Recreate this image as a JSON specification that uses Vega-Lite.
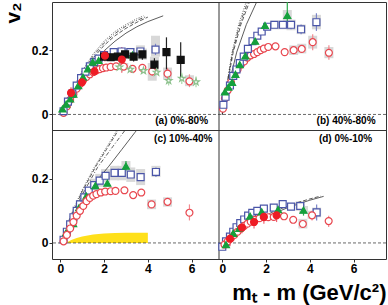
{
"$schema":"https://vega.github.io/schema/vega-lite/v6.json",
"width":388,"height":305,
"autosize":{"type":"fit","contains":"padding"},
"padding":{"left":2,"top":1,"right":1,"bottom":2},
"config":{"view":{"stroke":"#333"},"axis":{"labelFont":"Liberation Sans","titleFont":"Liberation Sans","labelFontSize":12,"labelFontWeight":"bold","labelColor":"#000","tickColor":"#333","grid":false,"domain":false,"labelOverlap":false,"labelFlush":false}},
"data":{"values":[
{"r":"t","q":"L","t":"(a) 0%-80%","x":6.75,"y":-0.02},{"r":"t","q":"R","t":"(b) 40%-80%","x":7.0,"y":-0.02},{"r":"b","q":"L","t":"(c) 10%-40%","x":6.95,"y":0.322},{"r":"b","q":"R","t":"(d) 0%-10%","x":6.85,"y":0.322},
{"r":"b","q":"L","b":1,"x":0.1,"y":0},{"r":"b","q":"L","b":1,"x":0.35,"y":0.004},{"r":"b","q":"L","b":1,"x":0.5,"y":0.009},{"r":"b","q":"L","b":1,"x":0.75,"y":0.015},{"r":"b","q":"L","b":1,"x":1.0,"y":0.02},{"r":"b","q":"L","b":1,"x":1.5,"y":0.026},{"r":"b","q":"L","b":1,"x":2.0,"y":0.029},{"r":"b","q":"L","b":1,"x":2.5,"y":0.031},{"r":"b","q":"L","b":1,"x":3.0,"y":0.032},{"r":"b","q":"L","b":1,"x":4.0,"y":0.032},
{"r":"t","q":"L","s":"K","x":0.15,"y":0.005},{"r":"t","q":"L","s":"K","x":0.3,"y":0.025},{"r":"t","q":"L","s":"K","x":0.45,"y":0.045},{"r":"t","q":"L","s":"K","x":0.6,"y":0.063},{"r":"t","q":"L","s":"K","x":0.75,"y":0.08},{"r":"t","q":"L","s":"K","x":0.9,"y":0.095},{"r":"t","q":"L","s":"K","x":1.05,"y":0.107},{"r":"t","q":"L","s":"K","x":1.2,"y":0.117},{"r":"t","q":"L","s":"K","x":1.35,"y":0.125},{"r":"t","q":"L","s":"K","x":1.5,"y":0.132},{"r":"t","q":"L","s":"K","x":1.65,"y":0.137},{"r":"t","q":"L","s":"K","x":1.8,"y":0.141},{"r":"t","q":"L","s":"K","x":1.95,"y":0.144},{"r":"t","q":"L","s":"K","x":2.1,"y":0.146},{"r":"t","q":"L","s":"K","x":2.3,"y":0.148},{"r":"t","q":"L","s":"K","x":2.55,"y":0.15},{"r":"t","q":"L","s":"K","x":2.9,"y":0.149,"sl":0.14,"sh":0.16},{"r":"t","q":"L","s":"K","x":3.3,"y":0.142},{"r":"t","q":"L","s":"K","x":3.75,"y":0.145},{"r":"t","q":"L","s":"K","x":4.2,"y":0.134,"lo":0.12,"hi":0.15,"sl":0.105,"sh":0.16},{"r":"t","q":"L","s":"K","x":4.9,"y":0.127,"lo":0.11,"hi":0.145,"sl":0.108,"sh":0.146},{"r":"t","q":"L","s":"K","x":5.9,"y":0.103,"lo":0.085,"hi":0.125,"sl":0.088,"sh":0.122},
{"r":"t","q":"L","s":"L","x":0.15,"y":0.01},{"r":"t","q":"L","s":"L","x":0.35,"y":0.04},{"r":"t","q":"L","s":"L","x":0.55,"y":0.065},{"r":"t","q":"L","s":"L","x":0.75,"y":0.09},{"r":"t","q":"L","s":"L","x":0.95,"y":0.113},{"r":"t","q":"L","s":"L","x":1.15,"y":0.133},{"r":"t","q":"L","s":"L","x":1.35,"y":0.15},{"r":"t","q":"L","s":"L","x":1.55,"y":0.163},{"r":"t","q":"L","s":"L","x":1.75,"y":0.174},{"r":"t","q":"L","s":"L","x":2.0,"y":0.185},{"r":"t","q":"L","s":"L","x":2.44,"y":0.194},{"r":"t","q":"L","s":"L","x":2.8,"y":0.196,"sl":0.185,"sh":0.207},{"r":"t","q":"L","s":"L","x":3.2,"y":0.194,"sl":0.183,"sh":0.207},{"r":"t","q":"L","s":"L","x":3.66,"y":0.196,"sl":0.175,"sh":0.215},{"r":"t","q":"L","s":"L","x":4.35,"y":0.202,"lo":0.185,"hi":0.22,"sl":0.18,"sh":0.245},
{"r":"t","q":"L","s":"X","x":0.1,"y":0.017},{"r":"t","q":"L","s":"X","x":0.27,"y":0.032},{"r":"t","q":"L","s":"X","x":0.45,"y":0.048},{"r":"t","q":"L","s":"X","x":0.6,"y":0.063},{"r":"t","q":"L","s":"X","x":0.82,"y":0.09},{"r":"t","q":"L","s":"X","x":1.04,"y":0.116},{"r":"t","q":"L","s":"X","x":1.26,"y":0.142},{"r":"t","q":"L","s":"X","x":1.48,"y":0.163},{"r":"t","q":"L","s":"X","x":1.75,"y":0.168},{"r":"t","q":"L","s":"X","x":3.3,"y":0.185,"lo":0.17,"hi":0.2},
{"r":"t","q":"L","s":"p","x":2.0,"y":0.18},{"r":"t","q":"L","s":"p","x":2.3,"y":0.178},{"r":"t","q":"L","s":"p","x":2.63,"y":0.18},{"r":"t","q":"L","s":"p","x":2.96,"y":0.187},{"r":"t","q":"L","s":"p","x":3.35,"y":0.18,"lo":0.165,"hi":0.195},{"r":"t","q":"L","s":"p","x":3.75,"y":0.187,"lo":0.17,"hi":0.205,"sl":0.17,"sh":0.205},{"r":"t","q":"L","s":"p","x":4.3,"y":0.155,"lo":0.135,"hi":0.175,"sl":0.13,"sh":0.18},{"r":"t","q":"L","s":"p","x":4.85,"y":0.194,"lo":0.14,"hi":0.24},{"r":"t","q":"L","s":"p","x":5.5,"y":0.17,"lo":0.11,"hi":0.225},
{"r":"t","q":"L","s":"O","x":0.49,"y":0.067,"lo":0.05,"hi":0.085},{"r":"t","q":"L","s":"O","x":0.99,"y":0.1,"lo":0.085,"hi":0.115},{"r":"t","q":"L","s":"O","x":1.56,"y":0.134,"lo":0.12,"hi":0.15},{"r":"t","q":"L","s":"O","x":2.04,"y":0.183,"lo":0.165,"hi":0.2},{"r":"t","q":"L","s":"O","x":2.81,"y":0.171,"lo":0.13,"hi":0.21},
{"r":"t","q":"L","s":"pi","x":2.7,"y":0.147},{"r":"t","q":"L","s":"pi","x":3.2,"y":0.14},{"r":"t","q":"L","s":"pi","x":3.8,"y":0.136},{"r":"t","q":"L","s":"pi","x":4.4,"y":0.131},{"r":"t","q":"L","s":"pi","x":4.95,"y":0.105,"lo":0.09,"hi":0.122},{"r":"t","q":"L","s":"pi","x":5.55,"y":0.112,"lo":0.095,"hi":0.13},{"r":"t","q":"L","s":"pi","x":6.2,"y":0.101,"lo":0.085,"hi":0.118},
{"r":"t","q":"R","s":"K","x":0.03,"y":0.018},{"r":"t","q":"R","s":"K","x":0.12,"y":0.05},{"r":"t","q":"R","s":"K","x":0.25,"y":0.075},{"r":"t","q":"R","s":"K","x":0.4,"y":0.1},{"r":"t","q":"R","s":"K","x":0.55,"y":0.122},{"r":"t","q":"R","s":"K","x":0.7,"y":0.14},{"r":"t","q":"R","s":"K","x":0.85,"y":0.155},{"r":"t","q":"R","s":"K","x":1.0,"y":0.165},{"r":"t","q":"R","s":"K","x":1.15,"y":0.177},{"r":"t","q":"R","s":"K","x":1.3,"y":0.184},{"r":"t","q":"R","s":"K","x":1.45,"y":0.188},{"r":"t","q":"R","s":"K","x":1.6,"y":0.194},{"r":"t","q":"R","s":"K","x":1.75,"y":0.2},{"r":"t","q":"R","s":"K","x":1.9,"y":0.205},{"r":"t","q":"R","s":"K","x":2.1,"y":0.21},{"r":"t","q":"R","s":"K","x":2.43,"y":0.212},{"r":"t","q":"R","s":"K","x":2.85,"y":0.194},{"r":"t","q":"R","s":"K","x":3.26,"y":0.2,"sl":0.185,"sh":0.215},{"r":"t","q":"R","s":"K","x":3.63,"y":0.204,"sl":0.19,"sh":0.22},{"r":"t","q":"R","s":"K","x":4.13,"y":0.225,"lo":0.2,"hi":0.25,"sl":0.205,"sh":0.245},{"r":"t","q":"R","s":"K","x":4.87,"y":0.192,"lo":0.17,"hi":0.215,"sl":0.175,"sh":0.21},
{"r":"t","q":"R","s":"L","x":0.05,"y":0.03},{"r":"t","q":"R","s":"L","x":0.15,"y":0.055},{"r":"t","q":"R","s":"L","x":0.35,"y":0.09},{"r":"t","q":"R","s":"L","x":0.5,"y":0.12},{"r":"t","q":"R","s":"L","x":0.65,"y":0.14},{"r":"t","q":"R","s":"L","x":0.8,"y":0.16},{"r":"t","q":"R","s":"L","x":0.98,"y":0.18},{"r":"t","q":"R","s":"L","x":1.17,"y":0.204},{"r":"t","q":"R","s":"L","x":1.38,"y":0.228},{"r":"t","q":"R","s":"L","x":1.6,"y":0.245},{"r":"t","q":"R","s":"L","x":1.8,"y":0.258},{"r":"t","q":"R","s":"L","x":2.05,"y":0.273},{"r":"t","q":"R","s":"L","x":2.38,"y":0.279,"sl":0.265,"sh":0.292},{"r":"t","q":"R","s":"L","x":2.77,"y":0.279,"sl":0.265,"sh":0.292},{"r":"t","q":"R","s":"L","x":3.14,"y":0.279,"lo":0.265,"hi":0.29,"sl":0.262,"sh":0.295},{"r":"t","q":"R","s":"L","x":3.6,"y":0.265,"lo":0.25,"hi":0.28,"sl":0.25,"sh":0.28},{"r":"t","q":"R","s":"L","x":4.3,"y":0.287,"lo":0.26,"hi":0.315,"sl":0.265,"sh":0.31},
{"r":"t","q":"R","s":"X","x":0.12,"y":0.07},{"r":"t","q":"R","s":"X","x":0.28,"y":0.085},{"r":"t","q":"R","s":"X","x":0.45,"y":0.1},{"r":"t","q":"R","s":"X","x":0.6,"y":0.125},{"r":"t","q":"R","s":"X","x":0.8,"y":0.155},{"r":"t","q":"R","s":"X","x":1.05,"y":0.182},{"r":"t","q":"R","s":"X","x":1.5,"y":0.228},{"r":"t","q":"R","s":"X","x":1.95,"y":0.277},{"r":"t","q":"R","s":"X","x":2.97,"y":0.308,"lo":0.27,"hi":0.35,"sl":0.29,"sh":0.325},
{"r":"b","q":"L","s":"L","x":0.15,"y":0.01},{"r":"b","q":"L","s":"L","x":0.3,"y":0.035},{"r":"b","q":"L","s":"L","x":0.45,"y":0.058},{"r":"b","q":"L","s":"L","x":0.6,"y":0.08},{"r":"b","q":"L","s":"L","x":0.75,"y":0.1},{"r":"b","q":"L","s":"L","x":0.9,"y":0.12},{"r":"b","q":"L","s":"L","x":1.1,"y":0.142},{"r":"b","q":"L","s":"L","x":1.3,"y":0.163},{"r":"b","q":"L","s":"L","x":1.55,"y":0.18,"sl":0.165,"sh":0.2},{"r":"b","q":"L","s":"L","x":1.8,"y":0.194,"sl":0.175,"sh":0.215},{"r":"b","q":"L","s":"L","x":2.07,"y":0.209,"sl":0.19,"sh":0.23},{"r":"b","q":"L","s":"L","x":2.48,"y":0.218,"sl":0.195,"sh":0.24},{"r":"b","q":"L","s":"L","x":2.81,"y":0.218,"sl":0.195,"sh":0.24},{"r":"b","q":"L","s":"L","x":3.22,"y":0.213,"sl":0.19,"sh":0.235},{"r":"b","q":"L","s":"L","x":3.67,"y":0.205,"sl":0.18,"sh":0.23},{"r":"b","q":"L","s":"L","x":4.37,"y":0.221,"lo":0.205,"hi":0.235,"sl":0.205,"sh":0.24},
{"r":"b","q":"L","s":"X","x":0.27,"y":0.032},{"r":"b","q":"L","s":"X","x":0.59,"y":0.06},{"r":"b","q":"L","s":"X","x":0.86,"y":0.11},{"r":"b","q":"L","s":"X","x":1.19,"y":0.146},{"r":"b","q":"L","s":"X","x":1.6,"y":0.178},{"r":"b","q":"L","s":"X","x":2.15,"y":0.186},{"r":"b","q":"L","s":"X","x":3.0,"y":0.239,"lo":0.225,"hi":0.255,"sl":0.22,"sh":0.255},
{"r":"b","q":"L","s":"K","x":0.15,"y":0.005},{"r":"b","q":"L","s":"K","x":0.3,"y":0.025},{"r":"b","q":"L","s":"K","x":0.45,"y":0.045},{"r":"b","q":"L","s":"K","x":0.6,"y":0.065},{"r":"b","q":"L","s":"K","x":0.75,"y":0.085},{"r":"b","q":"L","s":"K","x":0.9,"y":0.1},{"r":"b","q":"L","s":"K","x":1.05,"y":0.115},{"r":"b","q":"L","s":"K","x":1.2,"y":0.13},{"r":"b","q":"L","s":"K","x":1.35,"y":0.14},{"r":"b","q":"L","s":"K","x":1.5,"y":0.147},{"r":"b","q":"L","s":"K","x":1.65,"y":0.152},{"r":"b","q":"L","s":"K","x":1.85,"y":0.157},{"r":"b","q":"L","s":"K","x":2.05,"y":0.16},{"r":"b","q":"L","s":"K","x":2.3,"y":0.161},{"r":"b","q":"L","s":"K","x":2.52,"y":0.162},{"r":"b","q":"L","s":"K","x":2.93,"y":0.164},{"r":"b","q":"L","s":"K","x":3.33,"y":0.149},{"r":"b","q":"L","s":"K","x":3.7,"y":0.157},{"r":"b","q":"L","s":"K","x":4.17,"y":0.12,"lo":0.11,"hi":0.13,"sl":0.105,"sh":0.135},{"r":"b","q":"L","s":"K","x":4.9,"y":0.128,"lo":0.115,"hi":0.14,"sl":0.113,"sh":0.142},{"r":"b","q":"L","s":"K","x":5.9,"y":0.094,"lo":0.07,"hi":0.12},
{"r":"b","q":"R","s":"L","x":0.0,"y":-0.012},{"r":"b","q":"R","s":"L","x":0.17,"y":0.005},{"r":"b","q":"R","s":"L","x":0.35,"y":0.02},{"r":"b","q":"R","s":"L","x":0.5,"y":0.035},{"r":"b","q":"R","s":"L","x":0.65,"y":0.049},{"r":"b","q":"R","s":"L","x":0.82,"y":0.062},{"r":"b","q":"R","s":"L","x":1.0,"y":0.073},{"r":"b","q":"R","s":"L","x":1.18,"y":0.085},{"r":"b","q":"R","s":"L","x":1.37,"y":0.094},{"r":"b","q":"R","s":"L","x":1.6,"y":0.1},{"r":"b","q":"R","s":"L","x":1.9,"y":0.107},{"r":"b","q":"R","s":"L","x":2.35,"y":0.11},{"r":"b","q":"R","s":"L","x":2.76,"y":0.121},{"r":"b","q":"R","s":"L","x":3.14,"y":0.113},{"r":"b","q":"R","s":"L","x":3.56,"y":0.115,"sl":0.1,"sh":0.13},{"r":"b","q":"R","s":"L","x":4.31,"y":0.095,"lo":0.07,"hi":0.12,"sl":0.08,"sh":0.11},
{"r":"b","q":"R","s":"K","x":0.1,"y":-0.005},{"r":"b","q":"R","s":"K","x":0.25,"y":0.005},{"r":"b","q":"R","s":"K","x":0.4,"y":0.015},{"r":"b","q":"R","s":"K","x":0.55,"y":0.025},{"r":"b","q":"R","s":"K","x":0.7,"y":0.035},{"r":"b","q":"R","s":"K","x":0.85,"y":0.045},{"r":"b","q":"R","s":"K","x":1.0,"y":0.053},{"r":"b","q":"R","s":"K","x":1.15,"y":0.06},{"r":"b","q":"R","s":"K","x":1.3,"y":0.066},{"r":"b","q":"R","s":"K","x":1.5,"y":0.072},{"r":"b","q":"R","s":"K","x":1.7,"y":0.077},{"r":"b","q":"R","s":"K","x":1.9,"y":0.08},{"r":"b","q":"R","s":"K","x":2.1,"y":0.08},{"r":"b","q":"R","s":"K","x":2.35,"y":0.081},{"r":"b","q":"R","s":"K","x":2.82,"y":0.083},{"r":"b","q":"R","s":"K","x":3.24,"y":0.072},{"r":"b","q":"R","s":"K","x":3.68,"y":0.059,"sl":0.045,"sh":0.075},{"r":"b","q":"R","s":"K","x":4.1,"y":0.086,"lo":0.07,"hi":0.1,"sl":0.075,"sh":0.1},{"r":"b","q":"R","s":"K","x":4.86,"y":0.068,"lo":0.05,"hi":0.085},
{"r":"b","q":"R","s":"X","x":0.17,"y":-0.005},{"r":"b","q":"R","s":"X","x":0.5,"y":0.03},{"r":"b","q":"R","s":"X","x":0.77,"y":0.045},{"r":"b","q":"R","s":"X","x":1.27,"y":0.083},{"r":"b","q":"R","s":"X","x":1.8,"y":0.097},{"r":"b","q":"R","s":"X","x":2.55,"y":0.104},{"r":"b","q":"R","s":"X","x":3.71,"y":0.102,"lo":0.085,"hi":0.12,"sl":0.09,"sh":0.115},
{"r":"b","q":"R","s":"O","x":0.35,"y":0.013,"lo":-0.01,"hi":0.035},{"r":"b","q":"R","s":"O","x":0.9,"y":0.048,"lo":0.03,"hi":0.065},{"r":"b","q":"R","s":"O","x":1.45,"y":0.065,"lo":0.045,"hi":0.085},{"r":"b","q":"R","s":"O","x":1.9,"y":0.081,"lo":0.06,"hi":0.1},{"r":"b","q":"R","s":"O","x":2.48,"y":0.086,"lo":0.065,"hi":0.105},
{"r":"t","q":"L","c":"s","x":0,"y":0},{"r":"t","q":"L","c":"s","x":0.5,"y":0.06},{"r":"t","q":"L","c":"s","x":1,"y":0.115},{"r":"t","q":"L","c":"s","x":1.5,"y":0.16},{"r":"t","q":"L","c":"s","x":2,"y":0.198},{"r":"t","q":"L","c":"s","x":2.5,"y":0.228},{"r":"t","q":"L","c":"s","x":3,"y":0.253},{"r":"t","q":"L","c":"s","x":3.5,"y":0.273},{"r":"t","q":"L","c":"s","x":4,"y":0.289},{"r":"t","q":"L","c":"s","x":4.7,"y":0.307},
{"r":"t","q":"L","c":"d","x":0,"y":0},{"r":"t","q":"L","c":"d","x":0.5,"y":0.065},{"r":"t","q":"L","c":"d","x":1,"y":0.125},{"r":"t","q":"L","c":"d","x":1.5,"y":0.175},{"r":"t","q":"L","c":"d","x":2,"y":0.215},{"r":"t","q":"L","c":"d","x":2.5,"y":0.245},{"r":"t","q":"L","c":"d","x":3,"y":0.268},{"r":"t","q":"L","c":"d","x":3.5,"y":0.287},{"r":"t","q":"L","c":"d","x":4,"y":0.303},
{"r":"t","q":"L","c":"dd","x":0,"y":0},{"r":"t","q":"L","c":"dd","x":0.5,"y":0.068},{"r":"t","q":"L","c":"dd","x":1,"y":0.13},{"r":"t","q":"L","c":"dd","x":1.5,"y":0.182},{"r":"t","q":"L","c":"dd","x":2,"y":0.222},{"r":"t","q":"L","c":"dd","x":2.5,"y":0.252},{"r":"t","q":"L","c":"dd","x":3,"y":0.275},{"r":"t","q":"L","c":"dd","x":3.5,"y":0.293},{"r":"t","q":"L","c":"dd","x":3.9,"y":0.304},
{"r":"t","q":"L","c":"o","x":0,"y":0},{"r":"t","q":"L","c":"o","x":0.5,"y":0.07},{"r":"t","q":"L","c":"o","x":1,"y":0.135},{"r":"t","q":"L","c":"o","x":1.5,"y":0.188},{"r":"t","q":"L","c":"o","x":2,"y":0.228},{"r":"t","q":"L","c":"o","x":2.5,"y":0.258},{"r":"t","q":"L","c":"o","x":3,"y":0.28},{"r":"t","q":"L","c":"o","x":3.5,"y":0.298},{"r":"t","q":"L","c":"o","x":3.8,"y":0.307},
{"r":"t","q":"R","c":"o","x":0,"y":0},{"r":"t","q":"R","c":"o","x":0.2,"y":0.09},{"r":"t","q":"R","c":"o","x":0.45,"y":0.194},{"r":"t","q":"R","c":"o","x":0.75,"y":0.28},{"r":"t","q":"R","c":"o","x":1.09,"y":0.35},
{"r":"t","q":"R","c":"dd","x":0,"y":0},{"r":"t","q":"R","c":"dd","x":0.2,"y":0.088},{"r":"t","q":"R","c":"dd","x":0.47,"y":0.194},{"r":"t","q":"R","c":"dd","x":0.8,"y":0.28},{"r":"t","q":"R","c":"dd","x":1.16,"y":0.35},
{"r":"t","q":"R","c":"d","x":0,"y":0},{"r":"t","q":"R","c":"d","x":0.2,"y":0.085},{"r":"t","q":"R","c":"d","x":0.5,"y":0.194},{"r":"t","q":"R","c":"d","x":0.85,"y":0.28},{"r":"t","q":"R","c":"d","x":1.24,"y":0.35},
{"r":"t","q":"R","c":"s","x":0,"y":0},{"r":"t","q":"R","c":"s","x":0.25,"y":0.08},{"r":"t","q":"R","c":"s","x":0.66,"y":0.194},{"r":"t","q":"R","c":"s","x":1.1,"y":0.28},{"r":"t","q":"R","c":"s","x":1.57,"y":0.35},
{"r":"b","q":"L","c":"o","x":0,"y":0},{"r":"b","q":"L","c":"o","x":0.5,"y":0.09},{"r":"b","q":"L","c":"o","x":1,"y":0.165},{"r":"b","q":"L","c":"o","x":1.55,"y":0.235},{"r":"b","q":"L","c":"o","x":2.0,"y":0.285},{"r":"b","q":"L","c":"o","x":2.45,"y":0.335},{"r":"b","q":"L","c":"o","x":2.58,"y":0.35},
{"r":"b","q":"L","c":"d","x":0,"y":0},{"r":"b","q":"L","c":"d","x":0.5,"y":0.085},{"r":"b","q":"L","c":"d","x":1,"y":0.16},{"r":"b","q":"L","c":"d","x":1.63,"y":0.239},{"r":"b","q":"L","c":"d","x":2.1,"y":0.29},{"r":"b","q":"L","c":"d","x":2.59,"y":0.344},{"r":"b","q":"L","c":"d","x":2.65,"y":0.35},
{"r":"b","q":"L","c":"dd","x":0,"y":0},{"r":"b","q":"L","c":"dd","x":0.5,"y":0.08},{"r":"b","q":"L","c":"dd","x":1,"y":0.15},{"r":"b","q":"L","c":"dd","x":1.7,"y":0.235},{"r":"b","q":"L","c":"dd","x":2.4,"y":0.3},{"r":"b","q":"L","c":"dd","x":2.95,"y":0.35},
{"r":"b","q":"L","c":"s","x":0,"y":0},{"r":"b","q":"L","c":"s","x":0.5,"y":0.07},{"r":"b","q":"L","c":"s","x":1,"y":0.13},{"r":"b","q":"L","c":"s","x":1.5,"y":0.18},{"r":"b","q":"L","c":"s","x":2.22,"y":0.239},{"r":"b","q":"L","c":"s","x":2.8,"y":0.29},{"r":"b","q":"L","c":"s","x":3.41,"y":0.344},{"r":"b","q":"L","c":"s","x":3.48,"y":0.35},
{"r":"b","q":"R","c":"s","x":0.1,"y":0},{"r":"b","q":"R","c":"s","x":0.5,"y":0.02},{"r":"b","q":"R","c":"s","x":1,"y":0.045},{"r":"b","q":"R","c":"s","x":1.5,"y":0.065},{"r":"b","q":"R","c":"s","x":2,"y":0.081},{"r":"b","q":"R","c":"s","x":2.5,"y":0.096},{"r":"b","q":"R","c":"s","x":3,"y":0.11},{"r":"b","q":"R","c":"s","x":3.5,"y":0.122},{"r":"b","q":"R","c":"s","x":4,"y":0.133},{"r":"b","q":"R","c":"s","x":4.63,"y":0.145},
{"r":"b","q":"R","c":"d","x":0.1,"y":0},{"r":"b","q":"R","c":"d","x":0.5,"y":0.024},{"r":"b","q":"R","c":"d","x":1,"y":0.05},{"r":"b","q":"R","c":"d","x":1.5,"y":0.07},{"r":"b","q":"R","c":"d","x":2,"y":0.087},{"r":"b","q":"R","c":"d","x":2.5,"y":0.102},{"r":"b","q":"R","c":"d","x":3,"y":0.115},{"r":"b","q":"R","c":"d","x":3.5,"y":0.127},{"r":"b","q":"R","c":"d","x":4,"y":0.137},{"r":"b","q":"R","c":"d","x":4.5,"y":0.146}
]},
"transform":[
{"calculate":"datum.q=='R' ? 7.4 : 0","as":"ox"},
{"calculate":"datum.r=='b' ? 0.4 : 0","as":"oy"},
{"calculate":"datum.x + datum.ox","as":"xx"},
{"calculate":"datum.y - datum.oy","as":"yy"},
{"calculate":"datum.lo == null ? null : datum.lo - datum.oy","as":"ylo"},
{"calculate":"datum.hi == null ? null : datum.hi - datum.oy","as":"yhi"},
{"calculate":"datum.sl == null ? null : datum.sl - datum.oy","as":"ysl"},
{"calculate":"datum.sh == null ? null : datum.sh - datum.oy","as":"ysh"}
],
"layer":[
{"transform":[{"filter":"datum.sl != null"}],"mark":{"type":"bar","size":9,"color":"#d8d8d8"},"encoding":{
"x":{"field":"xx","type":"quantitative","scale":{"domain":[-0.15,14.65],"nice":false,"zero":false},"axis":{"values":[0,1,2,3,4,5,6,7,7.4,8.4,9.4,10.4,11.4,12.4,13.4,14.4],"labelExpr":"datum.value > 7.2 ? format(datum.value - 7.4, 'd') : format(datum.value, 'd')","tickSize":3,"labelPadding":1,"title":"m\u209c - m (GeV/c\u00b2)","titleFontSize":22,"titleFontWeight":"bold","titleAnchor":"end","titlePadding":8}},
"y":{"field":"ysl","type":"quantitative","scale":{"domain":[-0.45,0.35],"nice":false,"zero":false},"axis":{"values":[-0.4,-0.3,-0.2,-0.1,0,0.1,0.2,0.3],"labelExpr":"datum.value < -0.05 ? format(datum.value + 0.4, '.1~f') : format(datum.value, '.1~f')","tickSize":3,"labelPadding":1,"title":"v\u2082","titleFontSize":21,"titleFontWeight":"bold","titleAnchor":"end","titlePadding":8}},
"y2":{"field":"ysh"}}},
{"transform":[{"filter":"datum.b != null"}],"mark":{"type":"area","color":"#ffe01a"},"encoding":{"x":{"field":"xx","type":"quantitative"},"y":{"field":"yy","type":"quantitative"},"y2":{"datum":-0.4}}},
{"transform":[{"filter":"datum.c=='s'"}],"mark":{"type":"line","clip":true,"color":"#333","strokeWidth":0.8},"encoding":{"x":{"field":"xx","type":"quantitative"},"y":{"field":"yy","type":"quantitative"},"detail":[{"field":"r"},{"field":"q"}]}},
{"transform":[{"filter":"datum.c=='d'"}],"mark":{"type":"line","clip":true,"color":"#333","strokeWidth":0.8,"strokeDash":[4,2]},"encoding":{"x":{"field":"xx","type":"quantitative"},"y":{"field":"yy","type":"quantitative"},"detail":[{"field":"r"},{"field":"q"}]}},
{"transform":[{"filter":"datum.c=='dd'"}],"mark":{"type":"line","clip":true,"color":"#333","strokeWidth":0.8,"strokeDash":[4,2,1,2]},"encoding":{"x":{"field":"xx","type":"quantitative"},"y":{"field":"yy","type":"quantitative"},"detail":[{"field":"r"},{"field":"q"}]}},
{"transform":[{"filter":"datum.c=='o'"}],"mark":{"type":"line","clip":true,"color":"#333","strokeWidth":0.8,"strokeDash":[1,1.5]},"encoding":{"x":{"field":"xx","type":"quantitative"},"y":{"field":"yy","type":"quantitative"},"detail":[{"field":"r"},{"field":"q"}]}},
{"transform":[{"filter":"datum.t == '(a) 0%-80%'"}],"mark":{"type":"rule","color":"#444","strokeDash":[3,2],"strokeWidth":0.8},"encoding":{"y":{"datum":0}}},
{"transform":[{"filter":"datum.t == '(a) 0%-80%'"}],"mark":{"type":"rule","color":"#444","strokeDash":[3,2],"strokeWidth":0.8},"encoding":{"y":{"datum":-0.4}}},
{"transform":[{"filter":"datum.t == '(a) 0%-80%'"}],"mark":{"type":"rule","color":"#333","strokeWidth":1},"encoding":{"y":{"datum":-0.05}}},
{"transform":[{"filter":"datum.t == '(a) 0%-80%'"}],"mark":{"type":"rule","color":"#333","strokeWidth":1},"encoding":{"x":{"datum":7.25}}},
{"transform":[{"filter":"datum.lo != null"}],"mark":{"type":"rule","strokeWidth":1.2},"encoding":{"x":{"field":"xx","type":"quantitative"},"y":{"field":"ylo","type":"quantitative"},"y2":{"field":"yhi"},"color":{"field":"s","type":"nominal","scale":{"domain":["pi","p","K","L","X","O"],"range":["#a8d8a8","#222222","#f28a90","#7a84c8","#2aa84a","#f06070"]},"legend":null}}},
{"transform":[{"filter":"datum.s != null"}],"mark":{"type":"point","size":48,"strokeWidth":1.2,"opacity":1},"encoding":{"x":{"field":"xx","type":"quantitative"},"y":{"field":"yy","type":"quantitative"},
"shape":{"field":"s","type":"nominal","scale":{"domain":["pi","p","K","L","X","O"],"range":["M0,-1L0.235,-0.324L0.951,-0.309L0.38,0.124L0.588,0.809L0,0.4L-0.588,0.809L-0.38,0.124L-0.951,-0.309L-0.235,-0.324Z","square","circle","square","triangle-up","circle"]},"legend":{"orient":"none","legendX":243,"legendY":66,"columns":2,"title":null,"labelFont":"Liberation Sans","labelFontSize":9,"labelFontWeight":"bold","symbolSize":45,"rowPadding":3,"columnPadding":6,"labelOffset":4,"symbolStrokeWidth":1.2,"labelExpr":"datum.label=='pi' ? '\u03c0\u207b + \u03c0\u207a' : datum.label=='p' ? 'p + p\u0304' : datum.label=='K' ? 'K\u2070\u209b' : datum.label=='L' ? '\u039b + \u039b\u0304' : datum.label=='X' ? '\u039e\u207b + \u039e\u0304\u207a' : '\u03a9\u207b + \u03a9\u0304\u207a'"}},
"fill":{"field":"s","type":"nominal","scale":{"domain":["pi","p","K","L","X","O"],"range":["#ffffff","#111111","#ffffff","#ffffff","#14a03c","#ee1c25"]},"legend":{"orient":"none","legendX":243,"legendY":66,"columns":2,"title":null,"labelFont":"Liberation Sans","labelFontSize":9,"labelFontWeight":"bold","symbolSize":45,"rowPadding":3,"columnPadding":6,"labelOffset":4,"symbolStrokeWidth":1.2,"labelExpr":"datum.label=='pi' ? '\u03c0\u207b + \u03c0\u207a' : datum.label=='p' ? 'p + p\u0304' : datum.label=='K' ? 'K\u2070\u209b' : datum.label=='L' ? '\u039b + \u039b\u0304' : datum.label=='X' ? '\u039e\u207b + \u039e\u0304\u207a' : '\u03a9\u207b + \u03a9\u0304\u207a'"}},
"stroke":{"field":"s","type":"nominal","scale":{"domain":["pi","p","K","L","X","O"],"range":["#8cc08c","#111111","#e8474f","#4a55a8","#14a03c","#ee1c25"]},"legend":{"orient":"none","legendX":243,"legendY":66,"columns":2,"title":null,"labelFont":"Liberation Sans","labelFontSize":9,"labelFontWeight":"bold","symbolSize":45,"rowPadding":3,"columnPadding":6,"labelOffset":4,"symbolStrokeWidth":1.2,"labelExpr":"datum.label=='pi' ? '\u03c0\u207b + \u03c0\u207a' : datum.label=='p' ? 'p + p\u0304' : datum.label=='K' ? 'K\u2070\u209b' : datum.label=='L' ? '\u039b + \u039b\u0304' : datum.label=='X' ? '\u039e\u207b + \u039e\u0304\u207a' : '\u03a9\u207b + \u03a9\u0304\u207a'"}}}},
{"transform":[{"filter":"datum.t != null"}],"mark":{"type":"text","align":"right","font":"Liberation Sans","fontSize":10,"fontWeight":"bold","baseline":"middle"},"encoding":{"x":{"field":"xx","type":"quantitative"},"y":{"field":"yy","type":"quantitative"},"text":{"field":"t"}}}
]
}
